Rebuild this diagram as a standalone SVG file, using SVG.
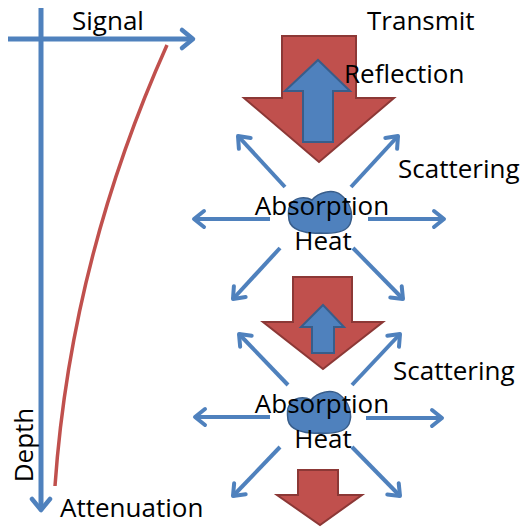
<svg xmlns="http://www.w3.org/2000/svg" width="529" height="527" viewBox="0 0 529 527">
<style>
.ax{fill:none;stroke:#4F81BD;stroke-width:5}
.sc{fill:none;stroke:#4F81BD;stroke-width:4}
.red{fill:#C0504D;stroke:#8C3836;stroke-width:2;stroke-linejoin:miter}
.blue{fill:#4F81BD;stroke:#385D8A;stroke-width:2}
.blob{fill:#4F81BD;stroke:#385D8A;stroke-width:1.5}
.t{font-family:"Open Sans","Segoe UI","Noto Sans",sans-serif;font-size:26px;fill:#000}
</style>
<defs>
<marker id="ch" markerUnits="userSpaceOnUse" markerWidth="30" markerHeight="30" refX="0" refY="0" viewBox="-15 -15 30 30" orient="auto" overflow="visible">
<path d="M-10,-8 L0,0 L-10,8" fill="none" stroke="#4F81BD" stroke-width="4" stroke-linecap="round" stroke-linejoin="round"/>
</marker>
<marker id="chb" markerUnits="userSpaceOnUse" markerWidth="30" markerHeight="30" refX="0" refY="0" viewBox="-15 -15 30 30" orient="auto" overflow="visible">
<path d="M-11,-9 L0,0 L-11,9" fill="none" stroke="#4F81BD" stroke-width="4.5" stroke-linecap="round" stroke-linejoin="round"/>
</marker>
</defs>

<g id="axes">
<line class="ax" x1="41" y1="8" x2="41" y2="510" marker-end="url(#chb)"/>
<line class="ax" x1="8" y1="39" x2="193" y2="39" marker-end="url(#chb)"/>
<path d="M167,45 C120,150 68,300 55,486" fill="none" stroke="#C0504D" stroke-width="3.5"/>
</g>

<g id="transmit-arrow">
<path class="red" d="M282,36 L356,36 L356,98 L394,98 L319,162 L244,98 L282,98 Z"/>
</g>
<g id="reflection-arrow">
<path class="blue" d="M303,142 L333,142 L333,91 L350,91 L318,60 L285,91 L303,91 Z"/>
</g>

<g id="blob1">
<path class="blob" d="M290,206 C293,197 305,196 312,200 C318,193 332,188 341,195 C350,202 354,214 350,224 C346,232 333,234 320,233 C305,234 291,230 289,220 C288,213 288,209 290,206 Z"/>
</g>

<g id="arrow2">
<path class="red" d="M293,277 L352,277 L352,322 L383,322 L323,369 L263,322 L293,322 Z"/>
</g>
<g id="reflection-arrow2">
<path class="blue" d="M312,353 L334,353 L334,327 L344,327 L323,305 L301,327 L312,327 Z"/>
</g>

<g id="blob2">
<path class="blob" d="M289,406 C292,397 304,396 311,400 C317,393 331,388 340,395 C349,402 353,414 349,424 C345,432 332,434 319,433 C304,434 290,430 288,420 C287,413 287,409 289,406 Z"/>
</g>

<g id="arrow3">
<path class="red" d="M298,470 L338,470 L338,495 L362,495 L320,525 L277,495 L298,495 Z"/>
</g>

<g id="connectors">
<line class="sc" x1="285" y1="187" x2="238" y2="136" marker-end="url(#ch)"/>
<line class="sc" x1="351" y1="187" x2="398" y2="136" marker-end="url(#ch)"/>
<line class="sc" x1="270" y1="219" x2="194" y2="219" marker-end="url(#ch)"/>
<line class="sc" x1="368" y1="219" x2="444" y2="219" marker-end="url(#ch)"/>
<line class="sc" x1="280" y1="248" x2="233" y2="299" marker-end="url(#ch)"/>
<line class="sc" x1="353" y1="248" x2="403" y2="299" marker-end="url(#ch)"/>

<line class="sc" x1="288" y1="385" x2="239" y2="334" marker-end="url(#ch)"/>
<line class="sc" x1="352" y1="385" x2="400" y2="334" marker-end="url(#ch)"/>
<line class="sc" x1="270" y1="417" x2="195" y2="417" marker-end="url(#ch)"/>
<line class="sc" x1="366" y1="418" x2="442" y2="418" marker-end="url(#ch)"/>
<line class="sc" x1="280" y1="447" x2="233" y2="496" marker-end="url(#ch)"/>
<line class="sc" x1="352" y1="447" x2="400" y2="496" marker-end="url(#ch)"/>
</g>

<g id="labels">
<text class="t" x="72" y="30">Signal</text>
<text class="t" x="367" y="30">Transmit</text>
<text class="t" x="344" y="83">Reflection</text>
<text class="t" x="398" y="178">Scattering</text>
<text class="t" x="322" y="215" text-anchor="middle">Absorption</text>
<text class="t" x="323" y="250" text-anchor="middle">Heat</text>
<text class="t" x="393" y="380">Scattering</text>
<text class="t" x="322" y="413" text-anchor="middle">Absorption</text>
<text class="t" x="323" y="448" text-anchor="middle">Heat</text>
<text class="t" x="60" y="517">Attenuation</text>
<text class="t" transform="translate(33,445) rotate(-90)" text-anchor="middle">Depth</text>
</g>
</svg>
